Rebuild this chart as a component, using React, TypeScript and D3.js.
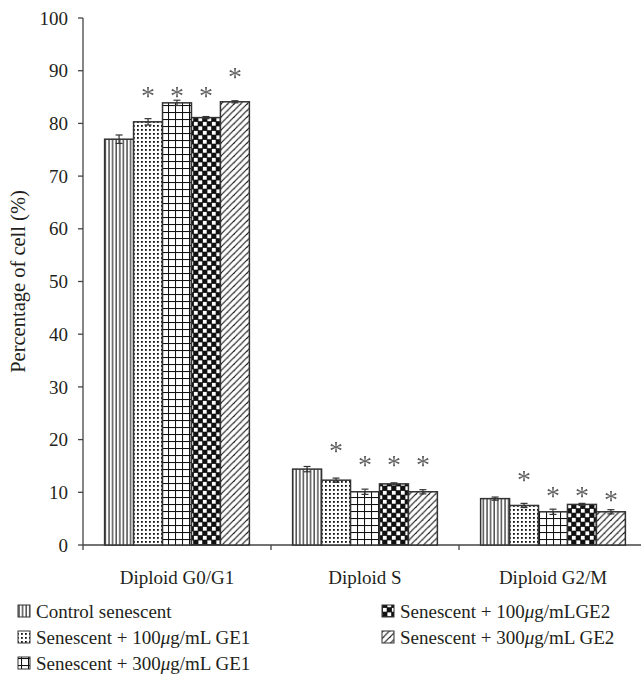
import React from "react";
import * as d3 from "d3";

const categories = ["Diploid G0/G1", "Diploid S", "Diploid G2/M"];
const seriesNames = [
  "Control senescent",
  "Senescent + 100μg/mL GE1",
  "Senescent + 300μg/mL GE1",
  "Senescent + 100μg/mLGE2",
  "Senescent + 300μg/mL GE2",
];
const seriesKeys = ["ctrl", "ge1_100", "ge1_300", "ge2_100", "ge2_300"];

const controlValues = [77.0, 14.4, 8.8];
const ge1Low = [80.3, 12.3, 7.5];
const ge1High = [83.9, 10.1, 6.3];
const ge2Low = [81.1, 11.6, 7.7];
const ge2High = [84.1, 10.1, 6.3];

const controlErr = [0.8, 0.5, 0.3];
const ge1LowErr = [0.6, 0.4, 0.4];
const ge1HighErr = [0.5, 0.5, 0.5];
const ge2LowErr = [0.2, 0.2, 0.2];
const ge2HighErr = [0.2, 0.4, 0.4];

// star positions (value units), null = no star
const controlStar: (number | null)[] = [null, null, null];
const ge1LowStar = [86.3, 18.8, 13.4];
const ge1HighStar = [86.3, 16.3, 10.3];
const ge2LowStar = [86.3, 16.3, 10.3];
const ge2HighStar = [89.9, 16.3, 9.6];

const yTicks = [0, 10, 20, 30, 40, 50, 60, 70, 80, 90, 100];

const valuesBySeries = [controlValues, ge1Low, ge1High, ge2Low, ge2High];
const errBySeries = [controlErr, ge1LowErr, ge1HighErr, ge2LowErr, ge2HighErr];
const starBySeries = [controlStar, ge1LowStar, ge1HighStar, ge2LowStar, ge2HighStar];

const FONT = "'Liberation Serif', 'Times New Roman', serif";
const TEXT = "#231f20";
const LINE = "#444";

export default function App() {
  const W = 641, H = 682;
  const x0 = 83, x1 = 647, yTop = 18, yBot = 545;
  const y = d3.scaleLinear().domain([0, 100]).range([yBot, yTop]);
  const xg = d3.scaleBand<string>().domain(categories).range([x0, x1]).paddingInner(0.23).paddingOuter(0.115);
  const xs = d3.scaleBand<string>().domain(seriesKeys).range([0, xg.bandwidth()]);
  const fsz = 19;

  const patterns = (
    <defs>
      <pattern id="p-ctrl" patternUnits="userSpaceOnUse" width={3.6} height={10}>
        <rect width={3.6} height={10} fill="#fff" />
        <line x1={1} y1={0} x2={1} y2={10} stroke="#111" strokeWidth={1.1} />
      </pattern>
      <pattern id="p-ge1_100" patternUnits="userSpaceOnUse" width={4} height={4}>
        <rect width={4} height={4} fill="#fff" />
        <rect x={1} y={1} width={1.8} height={1.8} fill="#111" />
      </pattern>
      <pattern id="p-ge1_300" patternUnits="userSpaceOnUse" width={7} height={7}>
        <rect width={7} height={7} fill="#fff" />
        <line x1={0.5} y1={0} x2={0.5} y2={7} stroke="#111" strokeWidth={1.1} />
        <line x1={0} y1={0.5} x2={7} y2={0.5} stroke="#111" strokeWidth={1.1} />
      </pattern>
      <pattern id="p-ge2_100" patternUnits="userSpaceOnUse" width={9} height={9}>
        <rect width={9} height={9} fill="#111" />
        <rect x={0.4} y={0.4} width={3.8} height={3.8} fill="#fff" />
        <rect x={4.9} y={4.9} width={3.8} height={3.8} fill="#fff" />
      </pattern>
      <pattern id="p-ge2_300" patternUnits="userSpaceOnUse" width={6.5} height={6.5}>
        <rect width={6.5} height={6.5} fill="#fff" />
        <line x1={-1} y1={7.5} x2={7.5} y2={-1} stroke="#111" strokeWidth={1.1} />
        <line x1={-3} y1={3.25} x2={3.25} y2={-3} stroke="#111" strokeWidth={1.1} />
        <line x1={3.25} y1={9.75} x2={9.75} y2={3.25} stroke="#111" strokeWidth={1.1} />
      </pattern>
    </defs>
  );

  const bars: React.ReactNode[] = [];
  const stars: React.ReactNode[] = [];
  categories.forEach((cat, ci) => {
    seriesKeys.forEach((key, si) => {
      const v = valuesBySeries[si][ci];
      const e = errBySeries[si][ci];
      const st = starBySeries[si][ci];
      const bx = (xg(cat) ?? 0) + (xs(key) ?? 0);
      const bw = xs.bandwidth();
      const cx = bx + bw / 2;
      bars.push(
        <g key={cat + key}>
          <rect x={bx} y={y(v)} width={bw} height={y(0) - y(v)} fill={`url(#p-${key})`} stroke="#333" strokeWidth={1.5} />
          <line x1={cx} x2={cx} y1={y(v + e)} y2={y(v - e)} stroke="#333" strokeWidth={1.2} />
          <line x1={cx - 3.5} x2={cx + 3.5} y1={y(v + e)} y2={y(v + e)} stroke="#333" strokeWidth={1.2} />
          <line x1={cx - 3.5} x2={cx + 3.5} y1={y(v - e)} y2={y(v - e)} stroke="#333" strokeWidth={1.2} />
        </g>
      );
      if (st !== null) {
        stars.push(
          <text key={"s" + cat + key} x={cx} y={y(st) + 14.5} textAnchor="middle" fontFamily={FONT} fontSize={28} fill="#222">*</text>
        );
      }
    });
  });

  const legendItems = [
    { key: "ctrl", name: seriesNames[0], x: 18, y: 611 },
    { key: "ge1_100", name: seriesNames[1], x: 18, y: 637 },
    { key: "ge1_300", name: seriesNames[2], x: 18, y: 663 },
    { key: "ge2_100", name: seriesNames[3], x: 382, y: 611 },
    { key: "ge2_300", name: seriesNames[4], x: 382, y: 637 },
  ];

  const renderName = (name: string) => {
    const idx = name.indexOf("μ");
    if (idx < 0) return name;
    return (
      <>
        {name.slice(0, idx)}
        <tspan fontStyle="italic">μ</tspan>
        {name.slice(idx + 1)}
      </>
    );
  };

  return (
    <svg width={W} height={H} style={{ position: "absolute", left: 0, top: 0, background: "#fff" }}>
      {patterns}
      <rect width={W} height={H} fill="#fff" />
      <line x1={x0} x2={x0} y1={yTop} y2={yBot} stroke={LINE} strokeWidth={1.3} />
      {yTicks.map((t) => (
        <g key={t}>
          <line x1={x0 - 5} x2={x0} y1={y(t)} y2={y(t)} stroke={LINE} strokeWidth={1.3} />
          <text x={x0 - 15} y={y(t)} dy="0.35em" textAnchor="end" fontFamily={FONT} fontSize={fsz} fill={TEXT}>{t}</text>
        </g>
      ))}
      <text transform={`translate(18,${(yTop + yBot) / 2}) rotate(-90)`} textAnchor="middle" dy="0.35em" fontFamily={FONT} fontSize={20.5} fill={TEXT}>
        Percentage of cell (%)
      </text>
      <line x1={x0} x2={x1} y1={yBot} y2={yBot} stroke={LINE} strokeWidth={1.3} />
      {[0, 1, 2, 3].map((i) => {
        const xx = x0 + i * xg.step();
        return <line key={i} x1={xx} x2={xx} y1={yBot} y2={yBot + 5} stroke={LINE} strokeWidth={1.3} />;
      })}
      {categories.map((c) => (
        <text key={c} x={(xg(c) ?? 0) + xg.bandwidth() / 2} y={577} dy="0.35em" textAnchor="middle" fontFamily={FONT} fontSize={fsz} fill={TEXT}>{c}</text>
      ))}
      {bars}
      <g opacity={0.72} style={{ willChange: "opacity" }}>{stars}</g>
      {legendItems.map((it) => (
        <g key={it.key}>
          <rect x={it.x} y={it.y - 6} width={12} height={12} fill={`url(#p-${it.key})`} stroke="#333" strokeWidth={1} />
          <text x={it.x + 18} y={it.y} dy="0.35em" fontFamily={FONT} fontSize={fsz} fill={TEXT}>{renderName(it.name)}</text>
        </g>
      ))}
    </svg>
  );
}
